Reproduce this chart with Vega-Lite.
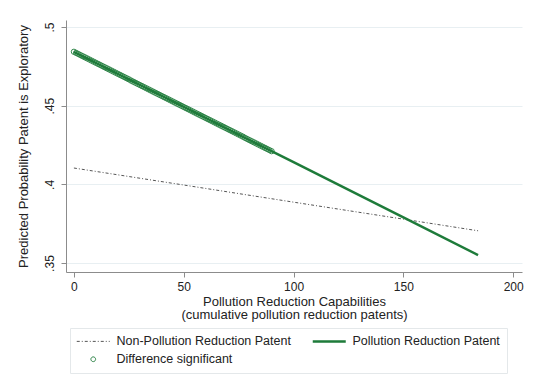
{
  "$schema": "https://vega.github.io/schema/vega-lite/v6.json",
  "width": 456,
  "height": 252,
  "autosize": "none",
  "padding": {"left": 66, "top": 20, "right": 12, "bottom": 115},
  "background": "white",
  "config": {
    "font": "Liberation Sans",
    "view": {"stroke": null},
    "axis": {"labelFont": "Liberation Sans", "titleFont": "Liberation Sans", "labelColor": "#222", "titleColor": "#222", "titleFontWeight": "normal", "labelFontSize": 12, "titleFontSize": 13, "domainColor": "#8c8c8c", "tickColor": "#8c8c8c", "tickSize": 5}
  },
  "datasets": {
    "lines": [
      {"cap": 0, "prob": 0.4104, "series": "Non-Pollution Reduction Patent"},
      {"cap": 50, "prob": 0.3996, "series": "Non-Pollution Reduction Patent"},
      {"cap": 100, "prob": 0.3887, "series": "Non-Pollution Reduction Patent"},
      {"cap": 150, "prob": 0.3779, "series": "Non-Pollution Reduction Patent"},
      {"cap": 184, "prob": 0.3705, "series": "Non-Pollution Reduction Patent"},
      {"cap": 0, "prob": 0.4843, "series": "Pollution Reduction Patent"},
      {"cap": 50, "prob": 0.4492, "series": "Pollution Reduction Patent"},
      {"cap": 100, "prob": 0.4141, "series": "Pollution Reduction Patent"},
      {"cap": 150, "prob": 0.3790, "series": "Pollution Reduction Patent"},
      {"cap": 184, "prob": 0.3551, "series": "Pollution Reduction Patent"}
    ],
    "sig": [
      {"cap": 0, "prob": 0.4843}, {"cap": 1, "prob": 0.4836}, {"cap": 2, "prob": 0.4829}, {"cap": 3, "prob": 0.4822}, {"cap": 4, "prob": 0.4815},
      {"cap": 5, "prob": 0.4808}, {"cap": 6, "prob": 0.4801}, {"cap": 7, "prob": 0.4794}, {"cap": 8, "prob": 0.4787}, {"cap": 9, "prob": 0.4780},
      {"cap": 10, "prob": 0.4773}, {"cap": 11, "prob": 0.4766}, {"cap": 12, "prob": 0.4759}, {"cap": 13, "prob": 0.4752}, {"cap": 14, "prob": 0.4745},
      {"cap": 15, "prob": 0.4738}, {"cap": 16, "prob": 0.4731}, {"cap": 17, "prob": 0.4724}, {"cap": 18, "prob": 0.4717}, {"cap": 19, "prob": 0.4710},
      {"cap": 20, "prob": 0.4703}, {"cap": 21, "prob": 0.4696}, {"cap": 22, "prob": 0.4689}, {"cap": 23, "prob": 0.4682}, {"cap": 24, "prob": 0.4675},
      {"cap": 25, "prob": 0.4668}, {"cap": 26, "prob": 0.4660}, {"cap": 27, "prob": 0.4653}, {"cap": 28, "prob": 0.4646}, {"cap": 29, "prob": 0.4639},
      {"cap": 30, "prob": 0.4632}, {"cap": 31, "prob": 0.4625}, {"cap": 32, "prob": 0.4618}, {"cap": 33, "prob": 0.4611}, {"cap": 34, "prob": 0.4604},
      {"cap": 35, "prob": 0.4597}, {"cap": 36, "prob": 0.4590}, {"cap": 37, "prob": 0.4583}, {"cap": 38, "prob": 0.4576}, {"cap": 39, "prob": 0.4569},
      {"cap": 40, "prob": 0.4562}, {"cap": 41, "prob": 0.4555}, {"cap": 42, "prob": 0.4548}, {"cap": 43, "prob": 0.4541}, {"cap": 44, "prob": 0.4534},
      {"cap": 45, "prob": 0.4527}, {"cap": 46, "prob": 0.4520}, {"cap": 47, "prob": 0.4513}, {"cap": 48, "prob": 0.4506}, {"cap": 49, "prob": 0.4499},
      {"cap": 50, "prob": 0.4492}, {"cap": 51, "prob": 0.4485}, {"cap": 52, "prob": 0.4478}, {"cap": 53, "prob": 0.4471}, {"cap": 54, "prob": 0.4464},
      {"cap": 55, "prob": 0.4457}, {"cap": 56, "prob": 0.4450}, {"cap": 57, "prob": 0.4443}, {"cap": 58, "prob": 0.4436}, {"cap": 59, "prob": 0.4429},
      {"cap": 60, "prob": 0.4422}, {"cap": 61, "prob": 0.4415}, {"cap": 62, "prob": 0.4408}, {"cap": 63, "prob": 0.4401}, {"cap": 64, "prob": 0.4394},
      {"cap": 65, "prob": 0.4387}, {"cap": 66, "prob": 0.4380}, {"cap": 67, "prob": 0.4373}, {"cap": 68, "prob": 0.4366}, {"cap": 69, "prob": 0.4359},
      {"cap": 70, "prob": 0.4352}, {"cap": 71, "prob": 0.4345}, {"cap": 72, "prob": 0.4338}, {"cap": 73, "prob": 0.4331}, {"cap": 74, "prob": 0.4324},
      {"cap": 75, "prob": 0.4317}, {"cap": 76, "prob": 0.4310}, {"cap": 77, "prob": 0.4303}, {"cap": 78, "prob": 0.4295}, {"cap": 79, "prob": 0.4288},
      {"cap": 80, "prob": 0.4281}, {"cap": 81, "prob": 0.4274}, {"cap": 82, "prob": 0.4267}, {"cap": 83, "prob": 0.4260}, {"cap": 84, "prob": 0.4253},
      {"cap": 85, "prob": 0.4246}, {"cap": 86, "prob": 0.4239}, {"cap": 87, "prob": 0.4232}, {"cap": 88, "prob": 0.4225}, {"cap": 89, "prob": 0.4218},
      {"cap": 90, "prob": 0.4211}
    ]
  },
  "encoding": {
    "x": {
      "field": "cap", "type": "quantitative",
      "scale": {"domain": [-3.6, 204], "nice": false, "zero": false},
      "axis": {"values": [0, 50, 100, 150, 200], "grid": false, "labelPadding": 4, "titlePadding": 3, "titleLineHeight": 13.5,
        "title": ["Pollution Reduction Capabilities", "(cumulative pollution reduction patents)"]}
    },
    "y": {
      "field": "prob", "type": "quantitative",
      "scale": {"domain": [0.3443, 0.5045], "nice": false, "zero": false},
      "axis": {"values": [0.35, 0.4, 0.45, 0.5], "labelAngle": -90, "labelPadding": 5,
        "labelExpr": "replace(format(datum.value, '.2~f'), '0.', '.')",
        "grid": true, "gridColor": "#e8eff2", "gridWidth": 1, "titlePadding": 13,
        "title": "Predicted Probability Patent is Exploratory"}
    }
  },
  "layer": [
    {
      "data": {"name": "lines"},
      "transform": [{"filter": "datum.series === 'Non-Pollution Reduction Patent'"}],
      "mark": {"type": "line", "strokeWidth": 1, "strokeDash": [3, 2, 1, 2]},
      "encoding": {
        "color": {"field": "series", "type": "nominal",
          "scale": {"domain": ["Non-Pollution Reduction Patent", "Pollution Reduction Patent", "Difference significant"], "range": ["#555555", "#1e7b3a", "#1e7b3a"]},
          "legend": {"title": null, "orient": "none", "legendX": 4, "legendY": 308, "direction": "horizontal", "columns": 2,
            "strokeColor": "#e4e8ea", "padding": 7, "labelFontSize": 12.5, "labelFont": "Liberation Sans", "labelColor": "#222", "labelLimit": 400,
            "symbolSize": 1089, "symbolType": "stroke", "symbolOffset": 10, "columnPadding": 16, "rowPadding": 5, "labelOffset": 17,
            "encode": {"symbols": {"update": {
              "shape": {"signal": "datum.value === 'Difference significant' ? 'circle' : 'stroke'"},
              "size": {"signal": "datum.value === 'Difference significant' ? 22 : 1089"},
              "strokeDash": {"signal": "datum.value === 'Non-Pollution Reduction Patent' ? [3,2,1,2] : [1,0]"},
              "strokeWidth": {"signal": "datum.value === 'Pollution Reduction Patent' ? 2.5 : 1"},
              "fill": {"value": "transparent"}
            }}}}
        }
      }
    },
    {
      "data": {"name": "lines"},
      "transform": [{"filter": "datum.series === 'Pollution Reduction Patent'"}],
      "mark": {"type": "line", "strokeWidth": 2.5},
      "encoding": {"color": {"field": "series", "type": "nominal"}}
    },
    {
      "data": {"name": "sig"},
      "mark": {"type": "point", "shape": "circle", "filled": false, "size": 28, "strokeWidth": 1, "color": "#1e7b3a", "opacity": 0.9},
      "encoding": {}
    }
  ]
}
